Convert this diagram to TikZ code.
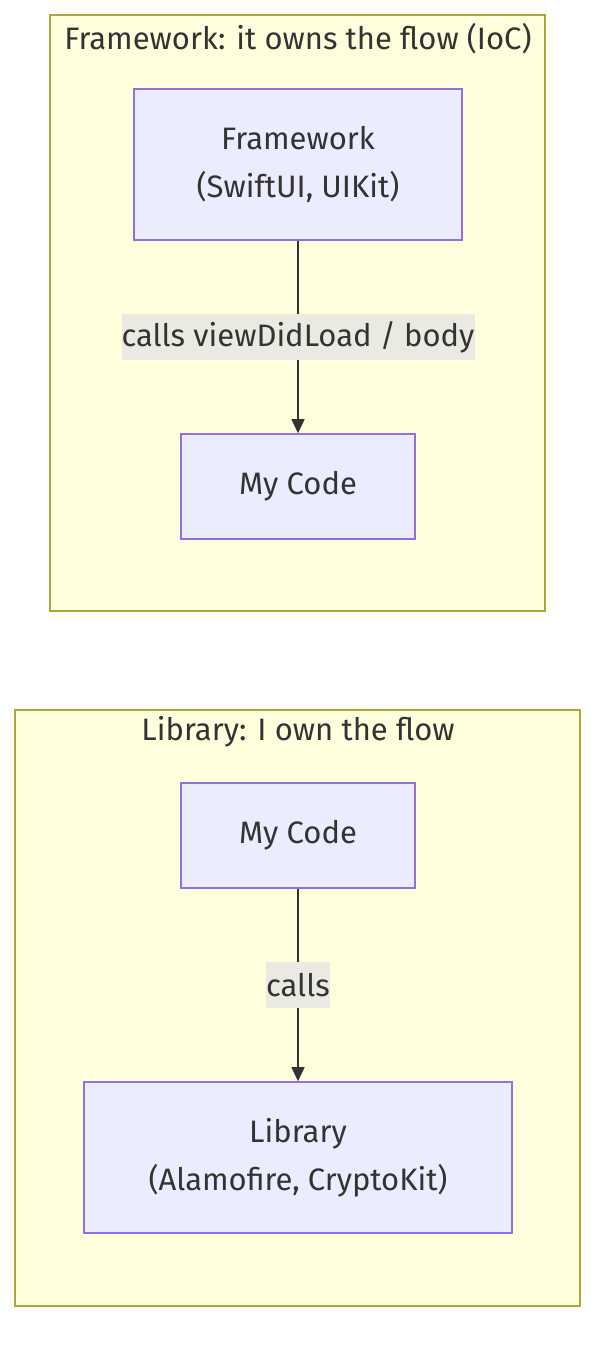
\documentclass[tikz,border=0pt]{standalone}
\usepackage{fontspec}
\setmainfont{Fira Sans}
\usetikzlibrary{arrows.meta}
\definecolor{clfill}{HTML}{FFFFDE}
\definecolor{cldraw}{HTML}{AAAA33}
\definecolor{ndfill}{HTML}{ECECFF}
\definecolor{nddraw}{HTML}{9370DB}
\definecolor{txt}{HTML}{333333}
\definecolor{lblbg}{HTML}{EAEAE2}
\tikzset{
  cluster/.style={draw=cldraw, fill=clfill, line width=1.6pt},
  box/.style={draw=nddraw, fill=ndfill, line width=1.6pt, text=txt, align=center, inner sep=0pt},
  ttl/.style={text=txt, font=\fontsize{31}{36}\selectfont},
  lbl/.style={fill=lblbg, text=txt, font=\fontsize{31}{36}\selectfont, inner xsep=0pt, inner ysep=0pt, minimum height=46pt},
  conn/.style={draw=txt, line width=1.6pt, -{Triangle[length=14pt,width=13pt]}},
}
\begin{document}
\begin{tikzpicture}[x=1pt,y=-1pt]
\useasboundingbox (0,0) rectangle (612,1356);
\fill[white] (0,0) rectangle (612,1356);
% clusters
\draw[cluster] (50,15) rectangle (545,611);
\node[ttl] (t1) at (298,39) {Framework: it owns the flow (IoC)};
\draw[cluster] (15,710) rectangle (580,1306);
\node[ttl] (t2) at (298,732) {Library: I own the flow};
% nodes
\node[box, minimum width=328pt, minimum height=151pt, font=\fontsize{31}{48}\selectfont] (fw) at (298,164.5) {Framework\\(SwiftUI, UIKit)};
\node[box, minimum width=234pt, minimum height=105pt, font=\fontsize{31}{36}\selectfont] (mc1) at (298,486.5) {My Code};
\node[box, minimum width=234pt, minimum height=105pt, font=\fontsize{31}{36}\selectfont] (mc2) at (298,835.5) {My Code};
\node[box, minimum width=428pt, minimum height=151pt, font=\fontsize{31}{48}\selectfont] (lib) at (298,1157.5) {Library\\(Alamofire, CryptoKit)};
% edges
\draw[conn] (fw) -- (mc1);
\node[lbl] (l1) at (298,337) {calls viewDidLoad / body};
\draw[conn] (mc2) -- (lib);
\node[lbl] (l2) at (298,985) {calls};
\end{tikzpicture}
\end{document}
